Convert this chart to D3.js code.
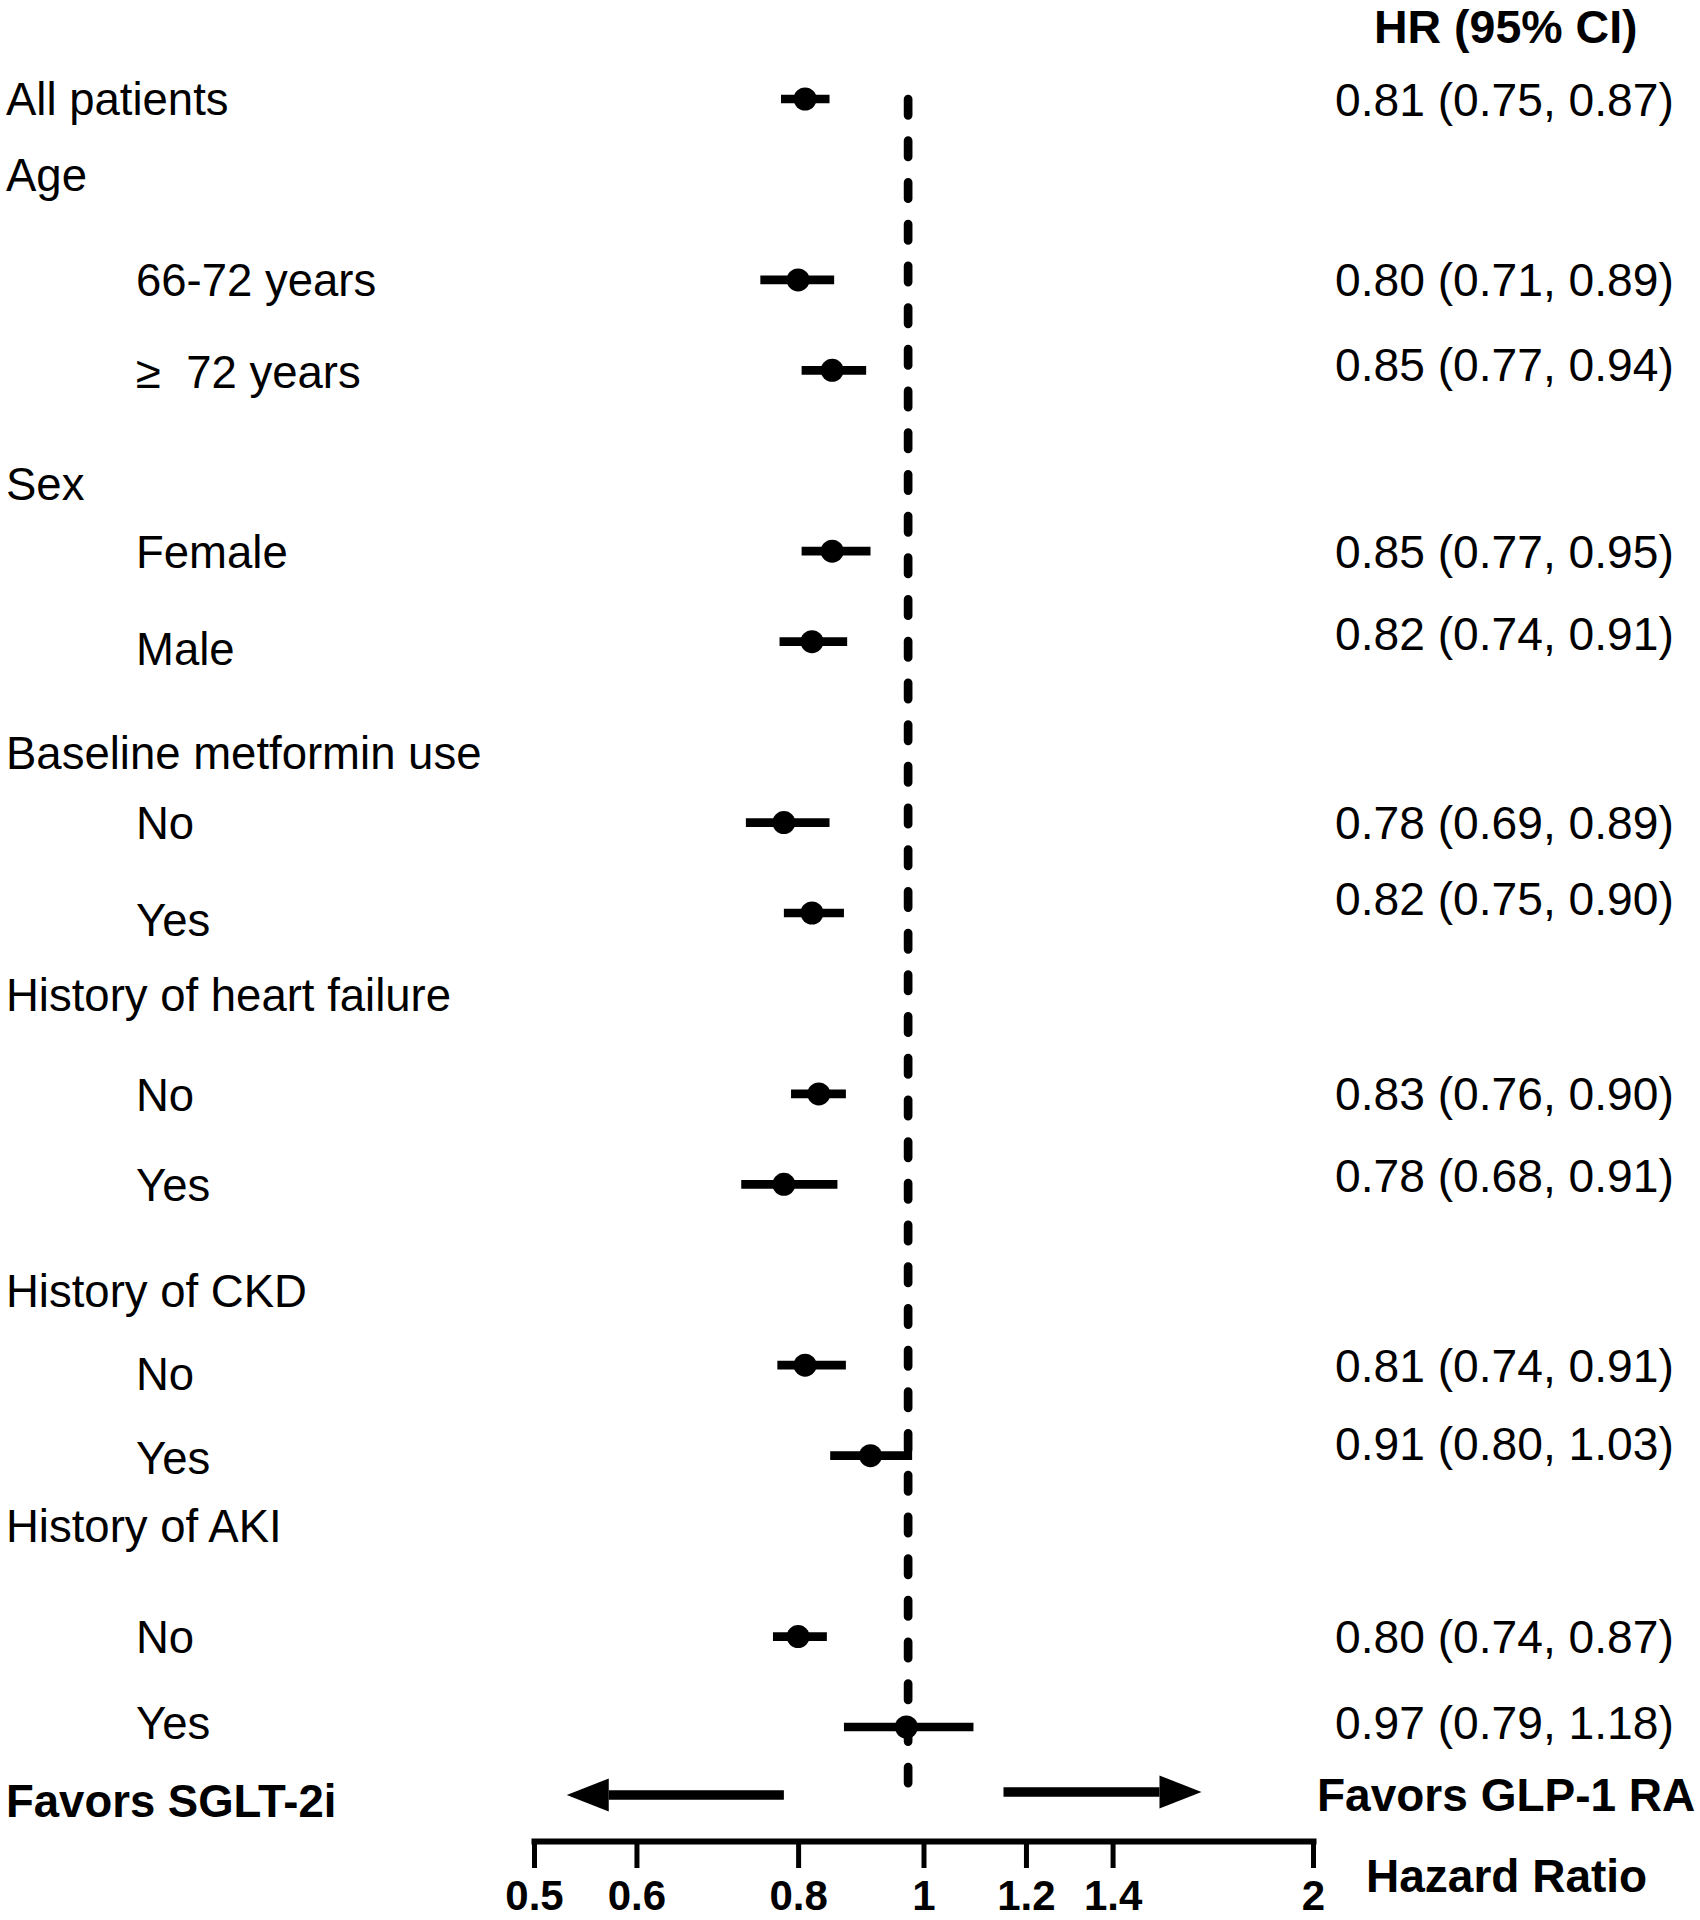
<!DOCTYPE html>
<html>
<head>
<meta charset="utf-8">
<script src="https://cdn.jsdelivr.net/npm/d3@7"></script>
<style>
  body { margin: 0; background: #fff; }
  svg text { font-family: "Liberation Sans", Arial, Helvetica, sans-serif; fill: #000; }
</style>
</head>
<body>
<div id="chart"></div>
<script>
// one entry per subgroup row (marker + whisker)
var rowLabels = ["All patients", "66-72 years", "\u2265\u00a0 72 years", "Female", "Male",
  "No", "Yes", "No", "Yes", "No", "Yes", "No", "Yes"];
var hr = [0.81, 0.80, 0.85, 0.85, 0.82, 0.78, 0.82, 0.83, 0.78, 0.81, 0.91, 0.80, 0.97];
// whisker ends as they are drawn in the figure
var ciLow = [0.776, 0.748, 0.805, 0.805, 0.774, 0.729, 0.780, 0.790, 0.723, 0.771, 0.847, 0.765, 0.868];
var ciHigh = [0.846, 0.853, 0.903, 0.910, 0.873, 0.846, 0.868, 0.871, 0.858, 0.871, 0.980, 0.842, 1.093];
var hrText = ["0.81 (0.75, 0.87)", "0.80 (0.71, 0.89)", "0.85 (0.77, 0.94)", "0.85 (0.77, 0.95)",
  "0.82 (0.74, 0.91)", "0.78 (0.69, 0.89)", "0.82 (0.75, 0.90)", "0.83 (0.76, 0.90)",
  "0.78 (0.68, 0.91)", "0.81 (0.74, 0.91)", "0.91 (0.80, 1.03)", "0.80 (0.74, 0.87)",
  "0.97 (0.79, 1.18)"];

var groupLabels = ["Age", "Sex", "Baseline metformin use", "History of heart failure",
  "History of CKD", "History of AKI"];

var tickValues = [0.5, 0.6, 0.8, 1, 1.2, 1.4, 2];
var refValue = 0.973;            // dashed line sits a little left of the 1 tick
var favorLeft = [0.78, 0.53];    // arrow start, tip
var favorRight = [1.153, 1.64];

// layout (row slots, not data)
var rowSlot = [0, 2, 3, 5, 6, 8, 9, 11, 12, 14, 15, 17, 18];
var labelNudge = [0, 0, 0.01, 0, 0.08, 0, 0.07, 0.01, 0, 0.09, 0.02, 0, -0.05];
var valueNudge = [0, 0, -0.07, 0, -0.095, 0, -0.16, 0, -0.095, 0, -0.135, 0, -0.054];
var groupSlot = [0.84, 4.25, 7.23, 9.90, 13.17, 15.77];

var width = 1700, height = 1920;
var valueWidth = 339;   // width of the right-hand HR column text

var svg = d3.select("#chart").append("svg")
  .attr("width", width)
  .attr("height", height);

var x = d3.scaleLog().domain([0.5, 2]).range([534, 1313]);
var y = d3.scaleLinear().domain([0, 18]).range([99, 1727]);

// reference line
svg.append("line")
  .attr("x1", x(refValue)).attr("x2", x(refValue))
  .attr("y1", y(0)).attr("y2", y(18.62))
  .attr("stroke", "#000")
  .attr("stroke-width", 8.7)
  .attr("stroke-linecap", "round")
  .attr("stroke-dasharray", "16.3 25.4");

var rows = hr.map(function(d, i) {
  return { hr: d, lo: ciLow[i], hi: ciHigh[i], slot: rowSlot[i] };
});

svg.selectAll(".ci").data(rows).enter().append("line")
  .attr("class", "ci")
  .attr("x1", function(d) { return x(d.lo); })
  .attr("x2", function(d) { return x(d.hi); })
  .attr("y1", function(d) { return y(d.slot); })
  .attr("y2", function(d) { return y(d.slot); })
  .attr("stroke", "#000")
  .attr("stroke-width", 8.7);

svg.selectAll(".pt").data(rows).enter().append("circle")
  .attr("class", "pt")
  .attr("cx", function(d) { return x(d.hr); })
  .attr("cy", function(d) { return y(d.slot); })
  .attr("r", 11.5)
  .attr("fill", "#000");

// left labels
svg.selectAll(".grp").data(groupLabels).enter().append("text")
  .attr("class", "grp")
  .attr("x", 6)
  .attr("y", function(d, i) { return y(groupSlot[i]); })
  .attr("dy", "0.36em")
  .style("font-size", "45.5px")
  .text(function(d) { return d; });

svg.selectAll(".lab").data(rowLabels).enter().append("text")
  .attr("class", "lab")
  .attr("x", function(d, i) { return i === 0 ? 6 : 136; })
  .attr("y", function(d, i) { return y(rowSlot[i] + labelNudge[i]); })
  .attr("dy", "0.36em")
  .style("font-size", "45.5px")
  .style("white-space", "pre")
  .text(function(d) { return d; });

// right column
svg.append("text")
  .attr("x", 1374).attr("y", 43)
  .style("font-size", "46.5px").style("font-weight", "bold")
  .text("HR (95% CI)");

var vals = svg.selectAll(".val").data(hrText).enter().append("text")
  .attr("class", "val")
  .attr("dy", "0.36em")
  .style("font-size", "46px")
  .text(function(d) { return d; });

// stretch the column to the width it has in the figure
var rawLen = vals.node().getComputedTextLength();
var stretch = valueWidth / rawLen;
vals.attr("transform", function(d, i) {
  return "translate(1335," + y(rowSlot[i] + valueNudge[i]) + ") scale(" + stretch + ",1)";
});

// favours arrows
function arrow(from, to, yy) {
  var x0 = x(from), x1 = x(to);
  var dir = x1 > x0 ? 1 : -1;
  var headLen = 42, half = 16.5;
  svg.append("line")
    .attr("x1", x0).attr("x2", x1 - dir * headLen)
    .attr("y1", yy).attr("y2", yy)
    .attr("stroke", "#000").attr("stroke-width", 9.3);
  svg.append("path")
    .attr("d", "M" + x1 + "," + yy + "L" + (x1 - dir * headLen) + "," + (yy - half) +
      "L" + (x1 - dir * headLen) + "," + (yy + half) + "Z")
    .attr("fill", "#000");
}
arrow(favorLeft[0], favorLeft[1], 1795);
arrow(favorRight[0], favorRight[1], 1792);

svg.append("text")
  .attr("x", 6).attr("y", 1817)
  .style("font-size", "45.5px").style("font-weight", "bold")
  .text("Favors SGLT-2i");

svg.append("text")
  .attr("x", 1317).attr("y", 1811)
  .style("font-size", "46px").style("font-weight", "bold")
  .text("Favors GLP-1 RA");

// axis
var axis = svg.append("g")
  .attr("transform", "translate(0,1841)")
  .call(d3.axisBottom(x)
    .tickValues(tickValues)
    .tickFormat(function(d) { return String(d); })
    .tickSize(27)
    .tickSizeOuter(0));

axis.select(".domain")
  .attr("stroke-width", 6)
  .attr("stroke-linecap", "square");
axis.selectAll(".tick line").attr("stroke-width", 5);
axis.selectAll(".tick text")
  .attr("y", 69)
  .attr("dy", null)
  .attr("fill", "#000")
  .style("font-family", "'Liberation Sans', Arial, sans-serif")
  .style("font-size", "42px")
  .style("font-weight", "bold");

svg.append("text")
  .attr("x", 1366).attr("y", 1892)
  .style("font-size", "46px").style("font-weight", "bold")
  .text("Hazard Ratio");
</script>
</body>
</html>
